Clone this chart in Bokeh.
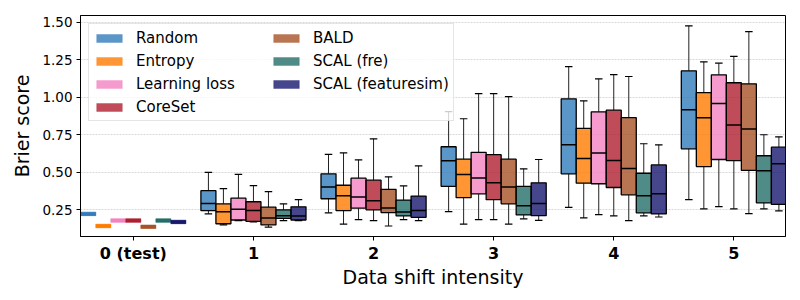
from bokeh.plotting import figure
from bokeh.models import Range1d, FixedTicker, Legend, LegendItem, NumeralTickFormatter, ColumnDataSource
from bokeh.embed import file_html
from bokeh.resources import INLINE

methods = ["Random", "Entropy", "Learning loss", "CoreSet", "BALD", "SCAL (fre)", "SCAL (featuresim)"]
colors = ["#327cba", "#ff7c00", "#f282c1", "#b01f31", "#a75327", "#246f69", "#18186f"]
shift_levels = [0, 1, 2, 3, 4, 5]
tick_labels = ["0 (test)", "1", "2", "3", "4", "5"]
y_ticks = [0.25, 0.50, 0.75, 1.00, 1.25, 1.50]

# shift 0 (test): single value per method
test_scores = [0.221, 0.140, 0.176, 0.176, 0.135, 0.176, 0.167]

# shift 1..5 : (whisker low, q1, median, q3, whisker high)
random_stats = [(0.221, 0.243, 0.290, 0.376, 0.498),
                (0.228, 0.322, 0.401, 0.488, 0.618),
                (0.236, 0.405, 0.575, 0.669, 0.904),
                (0.264, 0.488, 0.682, 0.989, 1.204),
                (0.316, 0.655, 0.916, 1.176, 1.476)]
entropy_stats = [(0.147, 0.155, 0.236, 0.288, 0.390),
                 (0.153, 0.243, 0.342, 0.412, 0.628),
                 (0.153, 0.329, 0.483, 0.586, 0.856),
                 (0.194, 0.426, 0.591, 0.792, 0.975),
                 (0.255, 0.537, 0.863, 1.030, 1.236)]
learning_loss_stats = [(0.176, 0.180, 0.252, 0.326, 0.484),
                       (0.182, 0.259, 0.333, 0.459, 0.582),
                       (0.182, 0.355, 0.461, 0.632, 1.023),
                       (0.216, 0.422, 0.628, 0.902, 1.122),
                       (0.270, 0.584, 0.957, 1.149, 1.227)]
coreset_stats = [(0.167, 0.171, 0.243, 0.302, 0.410),
                 (0.176, 0.248, 0.309, 0.446, 0.722),
                 (0.182, 0.316, 0.428, 0.616, 1.023),
                 (0.207, 0.397, 0.577, 0.913, 1.151),
                 (0.255, 0.577, 0.815, 1.096, 1.272)]
bald_stats = [(0.133, 0.147, 0.194, 0.266, 0.370),
              (0.140, 0.230, 0.261, 0.385, 0.468),
              (0.153, 0.288, 0.401, 0.586, 1.004),
              (0.176, 0.348, 0.524, 0.863, 1.138),
              (0.223, 0.511, 0.788, 1.089, 1.438)]
scal_fre_stats = [(0.176, 0.191, 0.209, 0.248, 0.288),
                  (0.182, 0.207, 0.234, 0.313, 0.408),
                  (0.188, 0.214, 0.275, 0.405, 0.522),
                  (0.207, 0.228, 0.342, 0.492, 0.689),
                  (0.255, 0.295, 0.508, 0.609, 0.749)]
scal_featuresim_stats = [(0.176, 0.180, 0.207, 0.268, 0.316),
                         (0.176, 0.198, 0.243, 0.340, 0.541),
                         (0.178, 0.209, 0.290, 0.428, 0.584),
                         (0.200, 0.221, 0.355, 0.548, 0.682),
                         (0.241, 0.284, 0.555, 0.666, 0.735)]

all_stats = [random_stats, entropy_stats, learning_loss_stats, coreset_stats,
             bald_stats, scal_fre_stats, scal_featuresim_stats]

BOX_W = 0.125
n_m = len(methods)

p = figure(width=792, height=292, output_backend="svg", toolbar_location=None,
           x_range=Range1d(-0.44, 5.43), y_range=Range1d(0.07, 1.545),
           min_border_left=80, min_border_right=7, min_border_top=15, min_border_bottom=56)

p.xgrid.visible = False
p.ygrid.grid_line_color = "#d8d8d8"
p.ygrid.grid_line_dash = "2 1"
p.ygrid.grid_line_width = 1
p.outline_line_color = "black"
p.outline_line_width = 1
p.background_fill_color = "white"

legend_items = []
for k, (name, col, stats) in enumerate(zip(methods, colors, all_stats)):
    off = (k - (n_m - 1) / 2) * BOX_W
    # shift 0 (test) - lighter swatch (used for the legend) under a full-colour bar
    sw = p.rect(x=[shift_levels[0] + off], y=[test_scores[k]], width=BOX_W, height=3.5,
                height_units="screen", fill_color=col, fill_alpha=0.8,
                line_color=col, line_alpha=0.3, line_width=1)
    p.rect(x=[shift_levels[0] + off], y=[test_scores[k]], width=BOX_W, height=3.5,
           height_units="screen", fill_color=col, line_color=col, line_alpha=0.25, line_width=1)
    xs = [s + off for s in shift_levels[1:]]
    lo = [s[0] for s in stats]
    q1 = [s[1] for s in stats]
    med = [s[2] for s in stats]
    q3 = [s[3] for s in stats]
    hi = [s[4] for s in stats]
    src = ColumnDataSource(dict(x=xs, lo=lo, q1=q1, med=med, q3=q3, hi=hi,
                                l=[x - BOX_W / 2 for x in xs], r=[x + BOX_W / 2 for x in xs],
                                cl=[x - BOX_W / 4 for x in xs], cr=[x + BOX_W / 4 for x in xs]))
    p.segment(x0="x", y0="lo", x1="x", y1="q1", source=src, line_color="#222222", line_width=1)
    p.segment(x0="x", y0="q3", x1="x", y1="hi", source=src, line_color="#222222", line_width=1)
    p.segment(x0="cl", y0="lo", x1="cr", y1="lo", source=src, line_color="black", line_width=1.2)
    p.segment(x0="cl", y0="hi", x1="cr", y1="hi", source=src, line_color="black", line_width=1.2)
    p.quad(left="l", right="r", bottom="q1", top="q3", source=src,
           fill_color=col, fill_alpha=0.8, line_color="black", line_width=1.3)
    p.segment(x0="l", y0="med", x1="r", y1="med", source=src, line_color="black", line_width=1.5)
    legend_items.append(LegendItem(label=name, renderers=[sw]))

legend = Legend(items=legend_items, location="top_left", ncols=2,
                margin=8, padding=4, spacing=4, glyph_width=32, glyph_height=10,
                label_height=19, label_standoff=11, label_width=130,
                label_text_font="DejaVu Sans", label_text_font_size="15px",
                label_text_baseline="middle", label_text_color="black",
                border_line_color="#cccccc", border_line_width=1,
                background_fill_color="white", background_fill_alpha=0.8)
p.add_layout(legend)

# x axis
p.xaxis.ticker = FixedTicker(ticks=shift_levels)
p.xaxis.major_label_overrides = {lvl: lab for lvl, lab in zip(shift_levels, tick_labels)}
p.xaxis.major_label_text_font = "DejaVu Sans"
p.xaxis.major_label_text_font_style = "bold"
p.xaxis.major_label_text_font_size = "16px"
p.xaxis.major_label_text_color = "black"
p.xaxis.axis_label = "Data shift intensity"
p.xaxis.axis_label_text_font = "DejaVu Sans"
p.xaxis.axis_label_text_font_style = "normal"
p.xaxis.axis_label_text_font_size = "19px"
p.xaxis.axis_label_text_color = "black"
p.xaxis.axis_label_standoff = 0
p.xaxis.major_label_standoff = 3

# y axis
p.yaxis.ticker = FixedTicker(ticks=y_ticks)
p.yaxis.formatter = NumeralTickFormatter(format="0.00")
p.yaxis.major_label_text_font = "DejaVu Sans"
p.yaxis.major_label_text_font_size = "13.5px"
p.yaxis.major_label_text_color = "black"
p.yaxis.axis_label = "Brier score"
p.yaxis.axis_label_text_font = "DejaVu Sans"
p.yaxis.axis_label_text_font_style = "normal"
p.yaxis.axis_label_text_font_size = "19px"
p.yaxis.axis_label_text_color = "black"
p.yaxis.axis_label_standoff = 6
p.yaxis.major_label_standoff = 4

for ax in (p.xaxis, p.yaxis):
    ax.axis_line_color = "black"
    ax.major_tick_line_color = "black"
    ax.major_tick_out = 4
    ax.major_tick_in = 0
    ax.minor_tick_line_color = None

open("out.html", "w").write(file_html(p, INLINE))
